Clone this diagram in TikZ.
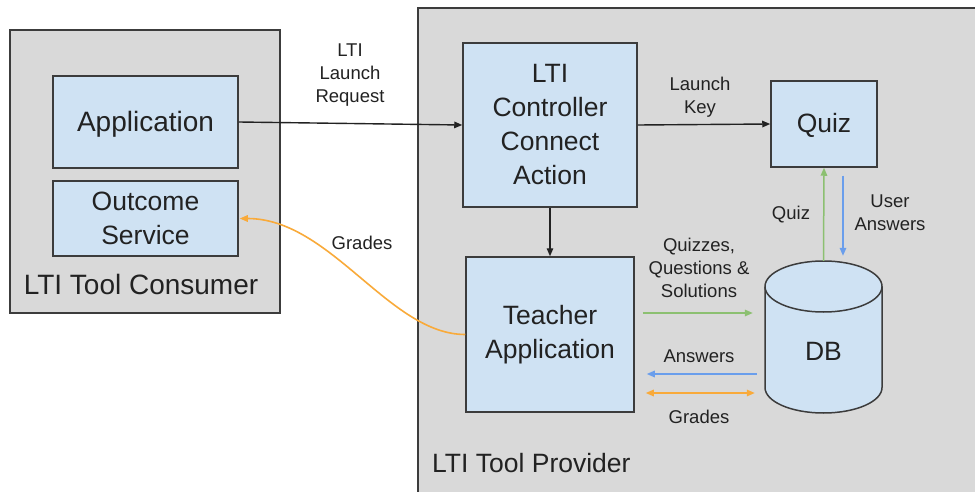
\documentclass[tikz,border=0pt]{standalone}
\usepackage{fontspec}
\setmainfont{Liberation Sans}
\usetikzlibrary{arrows.meta,calc}
\definecolor{panelfill}{HTML}{D9D9D9}
\definecolor{boxfill}{HTML}{CFE2F3}
\definecolor{edge}{HTML}{3C3C3C}
\definecolor{ink}{HTML}{222222}
\definecolor{flowgreen}{HTML}{8CC071}
\definecolor{flowblue}{HTML}{6A9EEC}
\definecolor{floworange}{HTML}{F9AA3A}
\tikzset{
  panel/.style={fill=panelfill, draw=edge, line width=1.6pt},
  block/.style={fill=boxfill, draw=edge, line width=1.5pt, inner sep=0pt,
    align=center, text=ink, font=\fontsize{26.5}{34}\selectfont},
  biglabel/.style={text=ink, font=\fontsize{26.5}{34}\selectfont, inner sep=0pt},
  smalllabel/.style={text=ink, align=center, inner sep=0pt,
    font=\fontsize{18.5}{23}\selectfont},
  tip/.style={-{Triangle[length=8pt,width=6.5pt]}},
  flow/.style={tip, line width=1.4pt, draw=ink},
  greenflow/.style={tip, line width=1.5pt, draw=flowgreen, color=flowgreen},
  blueflow/.style={tip, line width=1.5pt, draw=flowblue, color=flowblue},
  orangeflow/.style={line width=1.6pt, draw=floworange, color=floworange},
}
\begin{document}
\begin{tikzpicture}[x=1pt,y=-1pt]
\useasboundingbox (0,0) rectangle (975,492);
\clip (0,0) rectangle (975,492);
\fill[white] (0,0) rectangle (975,492);

% containers
\draw[panel] (10,30) rectangle (280,313);
\draw[panel] (418,8) rectangle (1000,520);
\node[biglabel, font=\fontsize{28}{34}\selectfont] (consumer) at (141,284) {LTI Tool Consumer};
\node[biglabel, anchor=west] (provider) at (432,463) {LTI Tool Provider};

% consumer blocks
\node[block, minimum width=185pt, minimum height=92pt,
  font=\fontsize{28}{34}\selectfont, text depth=1pt] (app) at (145.5,122) {Application};
\node[block, minimum width=185pt, minimum height=75pt] (os) at (145.5,218.5) {Outcome\\Service};

% provider blocks
\node[block, minimum width=174pt, minimum height=164pt] (ctrl) at (550,125) {LTI\\Controller\\Connect\\Action};
\node[block, minimum width=106pt, minimum height=86pt, text depth=2pt] (quiz) at (824,124) {Quiz};
\node[block, minimum width=168pt, minimum height=155pt] (ta) at (550,334.5) {Teacher\\Application};

% database cylinder
\def\rx{58.5}\def\ry{25.5}
\filldraw[fill=boxfill, draw=edge, line width=1.5pt]
  (765,286.5) -- (765,387.5) arc[start angle=180, end angle=0, x radius=\rx, y radius=\ry]
  -- (882,286.5) arc[start angle=0, end angle=-180, x radius=\rx, y radius=\ry] -- cycle;
\draw[edge, line width=1.5pt]
  (765,286.5) arc[start angle=180, end angle=0, x radius=\rx, y radius=\ry];
% label sits low in the body, below the top ellipse
\node[inner sep=0pt, minimum width=117pt, minimum height=152pt, text=ink,
  text height=46pt, text depth=0pt,
  font=\fontsize{26.5}{34}\selectfont] (db) at (823.5,337) {DB};

% launch path
\draw[flow] (app.east) -- (ctrl.west);
\node[smalllabel] (lreq) at (350,75) {LTI\\Launch\\Request};
\draw[flow] (ctrl.east) -- (quiz.west);
\node[smalllabel] (lkey) at (700,97) {Launch\\Key};
\draw[flow] (ctrl.south) -- (ta.north);

% quiz <-> db
\draw[greenflow] (db.north) -- (quiz.south);
\node[smalllabel] (lquiz) at (791,215) {Quiz};
\draw[blueflow, shorten <=8pt, shorten >=5pt]
  ([xshift=19pt]quiz.south) -- ([xshift=19pt]quiz.south |- db.north);
\node[smalllabel] (luser) at (890,213) {User\\Answers};

% teacher application <-> db
\draw[greenflow, shorten <=8pt, shorten >=12pt]
  ([yshift=21.5pt]ta.east) -- ([yshift=21.5pt]ta.east -| db.west);
\node[smalllabel] (lqqs) at (699,268) {Quizzes,\\Questions \&\\Solutions};
\draw[blueflow, shorten <=8pt, shorten >=12pt]
  ([yshift=-39.5pt]ta.east -| db.west) -- ([yshift=-39.5pt]ta.east);
\node[smalllabel] (lans) at (699,356) {Answers};
\draw[orangeflow, {Triangle[length=8pt,width=6.5pt]}-{Triangle[length=8pt,width=6.5pt]},
  shorten <=11pt, shorten >=10pt]
  ([yshift=-58.5pt]ta.east) -- ([yshift=-58.5pt]ta.east -| db.west);
\node[smalllabel] (lgr) at (699,417) {Grades};

% grades back to the outcome service
\draw[orangeflow, tip, shorten >=1pt]
  (ta.west) .. controls +(-76,0) and +(92,0) .. (os.east);
\node[smalllabel] (lgrades) at (362,243) {Grades};
\end{tikzpicture}
\end{document}
